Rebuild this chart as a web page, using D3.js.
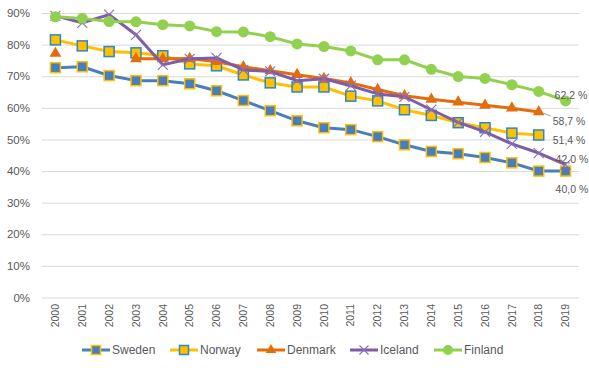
<!DOCTYPE html>
<html>
<head>
<meta charset="utf-8">
<script src="https://cdn.jsdelivr.net/npm/d3@7"></script>
<style>
  body { margin: 0; background: #fff; }
  text { font-family: "Liberation Sans", Arial, sans-serif; fill: #595959; }
</style>
</head>
<body>
<div id="chart"></div>
<script>
// values (percent)
const years = d3.range(2000, 2020).map(String)
const sweden  = [72.7, 73.0, 70.2, 68.6, 68.6, 67.6, 65.4, 62.3, 59.1, 55.9, 53.7, 53.1, 50.9, 48.3, 46.2, 45.5, 44.3, 42.6, 40.0, 40.0]
const norway  = [81.5, 79.6, 77.8, 77.4, 76.5, 73.9, 73.3, 70.4, 67.9, 66.6, 66.6, 63.7, 62.2, 59.4, 57.6, 55.3, 53.7, 52.0, 51.4, null]
const denmark = [77.2, null, null, 75.5, 75.5, 75.6, 74.6, 73.0, 71.7, 70.5, 69.3, 67.9, 65.8, 63.8, 62.7, 61.8, 60.8, 59.9, 58.7, null]
const iceland = [89.1, 86.9, 89.5, 83.1, 73.6, 75.5, 75.8, 72.0, 71.5, 68.6, 69.2, 67.0, 64.4, 63.5, 59.4, 55.4, 52.4, 48.6, 45.7, 42.0]
const finland = [88.8, 88.3, 87.3, 87.2, 86.3, 85.9, 84.1, 84.0, 82.5, 80.2, 79.4, 78.0, 75.2, 75.2, 72.2, 69.9, 69.3, 67.3, 65.2, 62.2]
const yTicks = d3.range(0, 100, 10)

const width = 589, height = 368

const series = [
  { name: 'Sweden',  values: sweden,  line: '#4a7ebb', fill: '#4a7ebb', stroke: '#ffc000', marker: 'square' },
  { name: 'Norway',  values: norway,  line: '#ffc000', fill: '#ffc000', stroke: '#2e86c8', marker: 'square' },
  { name: 'Denmark', values: denmark, line: '#e46c0a', fill: '#e46c0a', stroke: 'none',    marker: 'triangle' },
  { name: 'Iceland', values: iceland, line: '#7b5ea7', fill: 'none',    stroke: '#8a6fb5', marker: 'cross' },
  { name: 'Finland', values: finland, line: '#92d050', fill: '#92d050', stroke: 'none',    marker: 'circle' }
]

// end labels: series index, dx, dy from last point
const endLabels = [
  { s: 4, text: '62,2 %', dx: -11, dy: -6 },
  { s: 2, text: '58,7 %', dx: 14, dy: 9, leader: true },
  { s: 1, text: '51,4 %', dx: 14, dy: 5 },
  { s: 3, text: '42,0 %', dx: -10, dy: -5 },
  { s: 0, text: '40,0 %', dx: -10, dy: 18 }
]

const x = d3.scaleBand().domain(years).range([42, 579])
const y = d3.scaleLinear().domain([0, 90]).range([297.5, 13])
const cx = d => x(d) + x.bandwidth() / 2

const svg = d3.select('#chart').append('svg')
  .attr('width', width)
  .attr('height', height)

// gridlines + y labels
const yAxis = svg.append('g')
  .attr('transform', 'translate(42,0)')
  .call(d3.axisLeft(y).tickValues(yTicks).tickFormat(d => d + '%').tickSize(-537).tickPadding(12))
yAxis.select('.domain').remove()
yAxis.selectAll('line').attr('stroke', '#d9d9d9').attr('stroke-width', 1)
yAxis.selectAll('text').style('font-size', '11.5px').attr('fill', '#595959')

// x labels (rotated)
svg.append('g').selectAll('text')
  .data(years)
  .join('text')
    .attr('transform', d => 'translate(' + cx(d) + ',304) rotate(-90)')
    .attr('text-anchor', 'end')
    .attr('dy', '0.35em')
    .style('font-size', '10.5px')
    .text(d => d)

function drawMarker(g, s, size) {
  if (s.marker === 'square') {
    g.append('rect')
      .attr('x', -size / 2).attr('y', -size / 2)
      .attr('width', size).attr('height', size)
      .attr('fill', s.fill).attr('stroke', s.stroke).attr('stroke-width', 1.5)
  } else if (s.marker === 'triangle') {
    g.append('path')
      .attr('d', d3.symbol(d3.symbolTriangle, size * size * 0.6)())
      .attr('fill', s.fill)
  } else if (s.marker === 'circle') {
    g.append('circle').attr('r', size / 2 + 0.5).attr('fill', s.fill)
  } else {
    const r = size / 2
    g.append('path')
      .attr('d', 'M' + -r + ',' + -r + 'L' + r + ',' + r + 'M' + -r + ',' + r + 'L' + r + ',' + -r)
      .attr('stroke', s.stroke).attr('stroke-width', 1.1).attr('fill', 'none')
  }
}

const line = d3.line()
  .defined(d => d.v != null)
  .x(d => cx(d.year))
  .y(d => y(d.v))

series.forEach(s => {
  const pts = years.map((year, i) => ({ year: year, v: s.values[i] }))
  svg.append('path')
    .datum(pts)
    .attr('fill', 'none')
    .attr('stroke', s.line)
    .attr('stroke-width', 3)
    .attr('stroke-linejoin', 'round')
    .attr('d', line)

  pts.filter(d => d.v != null).forEach(d => {
    const g = svg.append('g').attr('transform', 'translate(' + cx(d.year) + ',' + y(d.v) + ')')
    drawMarker(g, s, 10)
  })
})

// end labels
endLabels.forEach(l => {
  const s = series[l.s]
  let i = s.values.length - 1
  while (s.values[i] == null) i--
  const px = cx(years[i]), py = y(s.values[i])
  if (l.leader) {
    svg.append('line')
      .attr('x1', px + 4).attr('y1', py + 1)
      .attr('x2', px + 12).attr('y2', py + 4)
      .attr('stroke', '#a6a6a6').attr('stroke-width', 1)
  }
  svg.append('text')
    .attr('x', px + l.dx)
    .attr('y', py + l.dy)
    .attr('dy', '0.35em')
    .style('font-size', '10.5px')
    .text(l.text)
})

// legend
const legendX = [82, 170, 257, 350, 434]
series.forEach((s, i) => {
  const g = svg.append('g').attr('transform', 'translate(' + legendX[i] + ',350)')
  g.append('line').attr('x1', 0).attr('x2', 28)
    .attr('stroke', s.line).attr('stroke-width', 3)
  const m = g.append('g').attr('transform', 'translate(14,0)')
  drawMarker(m, s, 9)
  g.append('text')
    .attr('x', 30)
    .attr('dy', '0.35em')
    .style('font-size', '12px')
    .text(s.name)
})
</script>
</body>
</html>
